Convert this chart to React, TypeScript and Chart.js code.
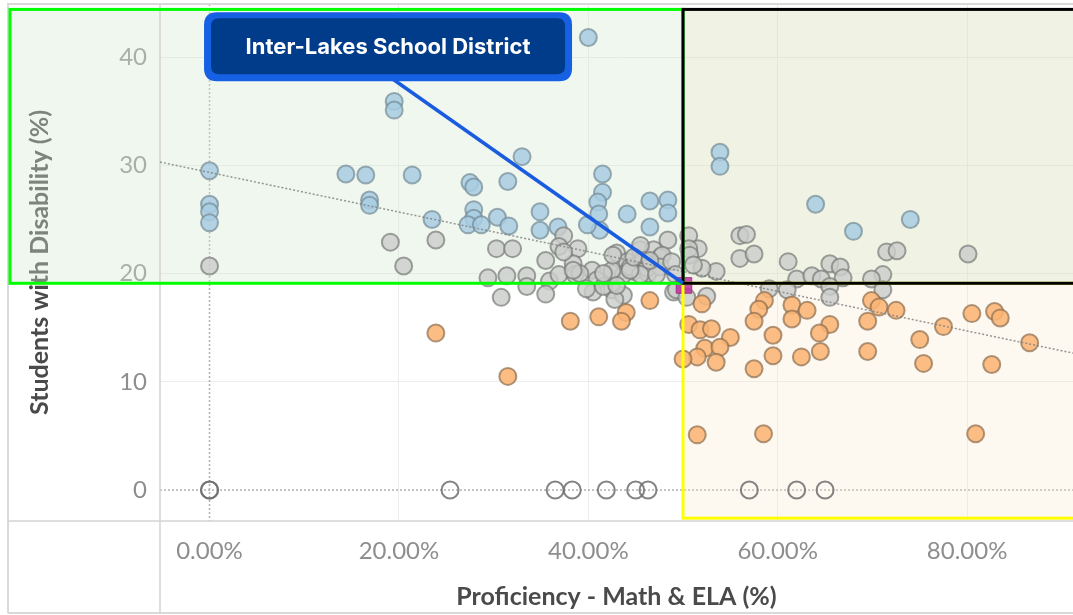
import React, { useEffect, useRef } from 'react';
import { Chart, registerables } from 'chart.js';

Chart.register(...registerables);

// ---------- data ----------
const blueX = [0, 0, 0, 0, 14.4, 16.5, 21.4, 16.9, 16.9, 23.5, 40.0, 19.5, 19.5, 33.0, 27.5, 27.9, 31.5, 41.5, 41.5, 41.0, 41.1, 41.2, 39.9, 27.9, 27.9, 27.3, 28.7, 30.4, 31.6, 34.9, 34.9, 36.8, 44.1, 46.5, 48.4, 48.4, 46.5, 53.9, 53.9, 64.0, 68.0, 74.0];
const blueY = [29.5, 26.4, 25.7, 24.7, 29.2, 29.1, 29.1, 26.8, 26.3, 25.0, 41.8, 35.9, 35.1, 30.8, 28.4, 28.0, 28.5, 29.2, 27.5, 26.6, 25.5, 24.0, 24.5, 25.9, 25.1, 24.5, 24.5, 25.2, 24.4, 25.7, 24.0, 24.3, 25.5, 26.7, 26.8, 25.6, 24.3, 31.2, 29.9, 26.4, 23.9, 25.0];

const grayX = [0, 19.1, 23.9, 20.5, 30.3, 32.0, 37.4, 36.9, 38.9, 35.5, 38.4, 40.4, 43.0, 44.1, 45.5, 46.9, 48.4, 47.6, 45.1, 29.4, 31.4, 33.5, 35.9, 36.9, 38.6, 40.9, 42.5, 43.7, 44.8, 46.3, 30.8, 33.5, 35.5, 40.5, 42.5, 43.7, 42.8, 49.0, 37.4, 45.5, 47.8, 45.8, 44.4, 46.2, 47.6, 48.8, 42.5, 39.1, 45.5, 47.2, 49.2, 39.8, 41.6, 38.4, 41.6, 42.6, 43.0, 44.4, 44.8, 46.5, 49.3,
  56.0, 56.7, 56.0, 57.5, 61.1, 65.5, 66.6, 71.5, 72.6, 71.1, 69.9, 62.0, 63.6, 64.6, 66.9, 65.5, 65.5, 61.0, 59.1, 71.1, 50.6, 51.6, 50.6, 53.5, 52.0, 52.5, 50.4, 80.1, 50.7, 51.1];
const grayY = [20.7, 22.9, 23.1, 20.7, 22.3, 22.3, 23.5, 22.5, 22.3, 21.2, 20.9, 20.3, 21.9, 21.1, 22.2, 22.2, 23.1, 21.5, 20.8, 19.6, 19.8, 19.8, 19.3, 19.9, 19.9, 19.4, 20.0, 19.9, 20.2, 20.0, 17.8, 18.8, 18.1, 18.3, 18.5, 18.0, 17.6, 18.3, 22.0, 22.6, 21.7, 21.2, 20.6, 20.5, 20.6, 21.1, 20.3, 20.0, 19.9, 19.9, 19.9, 18.6, 18.8, 20.3, 20.0, 21.7, 18.9, 20.3, 21.5, 21.2, 18.5,
  23.5, 23.6, 21.4, 21.8, 21.1, 20.9, 20.6, 22.0, 22.1, 19.9, 19.5, 19.5, 19.8, 19.5, 19.6, 18.8, 17.8, 18.5, 18.6, 18.5, 23.5, 22.3, 22.3, 20.2, 20.5, 17.9, 17.8, 21.8, 21.7, 20.8];

const orangeX = [46.5, 44.0, 43.5, 41.1, 38.1, 23.9, 31.5, 51.5, 58.5, 80.9, 52.0, 58.6, 58.0, 61.5, 63.1, 61.5, 57.5, 69.9, 70.7, 72.5, 69.5, 65.5, 64.4, 50.6, 51.8, 53.0, 55.0, 59.5, 52.3, 53.9, 51.5, 50.0, 53.5, 59.5, 62.5, 64.5, 57.5, 69.5, 75.0, 77.5, 75.4, 80.5, 82.9, 83.5, 82.6, 86.6];
const orangeY = [17.5, 16.4, 15.6, 16.0, 15.6, 14.5, 10.5, 5.1, 5.2, 5.2, 17.2, 17.5, 16.7, 17.1, 16.6, 15.8, 15.6, 17.5, 16.9, 16.6, 15.6, 15.3, 14.5, 15.3, 14.8, 14.9, 14.1, 14.3, 13.1, 13.2, 12.3, 12.1, 11.8, 12.4, 12.3, 12.8, 11.2, 12.8, 13.9, 15.1, 11.7, 16.3, 16.5, 15.9, 11.6, 13.6];

const zeroX = [0, 0, 25.4, 36.5, 38.3, 41.9, 45.0, 46.3, 57.0, 62.0, 65.0];
const zeroY = [0, 0, 0, 0, 0, 0, 0, 0, 0, 0, 0];

const highlightX = [50.1];
const highlightY = [18.9];

const trendX = [-5.23, 91.18];
const trendY = [30.3, 12.65];

const xTicks = [0, 20, 40, 60, 80];
const yTicks = [0, 10, 20, 30, 40];

const xMin = -5.23, xMax = 91.18;
const yMin = -2.86, yMax = 44.9;

// quadrant boundaries (data units)
const quadX = 50.0;
const quadY = 19.1;
const quadTop = 44.4;
const quadBottom = -2.6;

const calloutText = 'Inter-Lakes School District';
const calloutX = 18.85;
const calloutY = 40.95;

const xTitle = 'Proficiency - Math & ELA (%)';
const yTitle = 'Students with Disability (%)';

function pts(xs: number[], ys: number[]) {
  return xs.map((x, i) => ({ x, y: ys[i] }));
}

function rr(ctx: CanvasRenderingContext2D, x: number, y: number, w: number, h: number, r: number) {
  ctx.beginPath();
  ctx.moveTo(x + r, y);
  ctx.lineTo(x + w - r, y);
  ctx.quadraticCurveTo(x + w, y, x + w, y + r);
  ctx.lineTo(x + w, y + h - r);
  ctx.quadraticCurveTo(x + w, y + h, x + w - r, y + h);
  ctx.lineTo(x + r, y + h);
  ctx.quadraticCurveTo(x, y + h, x, y + h - r);
  ctx.lineTo(x, y + r);
  ctx.quadraticCurveTo(x, y, x + r, y);
  ctx.closePath();
}

const overlayPlugin = {
  id: 'quadrantOverlay',
  beforeDraw(chart: any) {
    const { ctx, width, height } = chart;
    ctx.save();
    ctx.fillStyle = '#ffffff';
    ctx.fillRect(0, 0, width, height);
    ctx.restore();
  },
  beforeDatasetsDraw(chart: any) {
    const { ctx, chartArea: ca, width, height } = chart;
    const xs = chart.scales.x, ys = chart.scales.y;
    const qx = xs.getPixelForValue(quadX), qy = ys.getPixelForValue(quadY);
    const top = ys.getPixelForValue(quadTop);
    const bottom = ys.getPixelForValue(quadBottom);
    const left = 10;
    const right = width + 10;
    ctx.save();
    // zero lines (dotted)
    ctx.setLineDash([2, 2]);
    ctx.strokeStyle = 'rgba(150,150,150,0.75)';
    ctx.lineWidth = 1.5;
    const y0 = ys.getPixelForValue(0), x0 = xs.getPixelForValue(0);
    ctx.beginPath(); ctx.moveTo(ca.left, y0); ctx.lineTo(ca.right, y0); ctx.stroke();
    ctx.beginPath(); ctx.moveTo(x0, ca.top); ctx.lineTo(x0, ca.bottom); ctx.stroke();
    ctx.setLineDash([]);
    // quadrant fills
    ctx.fillStyle = 'rgba(214,232,208,0.37)';
    ctx.fillRect(left, top, qx - left, qy - top);
    ctx.fillStyle = 'rgba(220,228,190,0.43)';
    ctx.fillRect(qx, top, right - qx, qy - top);
    ctx.fillStyle = 'rgba(247,228,195,0.25)';
    ctx.fillRect(qx, qy, right - qx, bottom - qy);
    // frame and pane dividers
    ctx.strokeStyle = '#d9d9d9';
    ctx.lineWidth = 2;
    ctx.beginPath();
    ctx.moveTo(8, height - 2); ctx.lineTo(8, 4); ctx.lineTo(width, 4);
    ctx.moveTo(8, height - 2); ctx.lineTo(width, height - 2);
    ctx.stroke();
    ctx.strokeStyle = '#d4d4d4';
    ctx.lineWidth = 1.5;
    ctx.beginPath();
    ctx.moveTo(ca.left, 4); ctx.lineTo(ca.left, height - 2);
    ctx.moveTo(8, ca.bottom); ctx.lineTo(width, ca.bottom);
    ctx.stroke();
    ctx.restore();
  },
  afterDatasetsDraw(chart: any) {
    const { ctx, width } = chart;
    const xs = chart.scales.x, ys = chart.scales.y;
    const qx = xs.getPixelForValue(quadX), qy = ys.getPixelForValue(quadY);
    const top = ys.getPixelForValue(quadTop);
    const bottom = ys.getPixelForValue(quadBottom);
    const left = 10;
    const right = width + 10;
    ctx.save();
    ctx.lineWidth = 3;
    ctx.strokeStyle = '#00ff00';
    ctx.strokeRect(left, top, qx - left, qy - top);
    ctx.strokeStyle = '#ffff00';
    ctx.strokeRect(qx, qy, right - qx, bottom - qy);
    ctx.strokeStyle = '#000000';
    ctx.strokeRect(qx, top, right - qx, qy - top);

    // callout
    const cx = xs.getPixelForValue(calloutX), cy = ys.getPixelForValue(calloutY);
    const bw = 368, bh = 69;
    ctx.strokeStyle = '#1a5ce0';
    ctx.lineWidth = 3.5;
    ctx.beginPath();
    ctx.moveTo(cx + 5, cy + bh / 2 - 2);
    ctx.lineTo(qx, qy);
    ctx.stroke();
    ctx.fillStyle = '#1660e3';
    rr(ctx, cx - bw / 2, cy - bh / 2, bw, bh, 13);
    ctx.fill();
    ctx.fillStyle = '#003c8a';
    rr(ctx, cx - bw / 2 + 7, cy - bh / 2 + 6, bw - 14, bh - 13, 8);
    ctx.fill();
    ctx.fillStyle = '#ffffff';
    ctx.font = 'bold 22px Inter, "Open Sans", sans-serif';
    ctx.textAlign = 'center';
    ctx.textBaseline = 'middle';
    ctx.fillText(calloutText, cx, cy + 1);
    ctx.restore();
  },
};

export default function App() {
  const ref = useRef<HTMLCanvasElement | null>(null);

  useEffect(() => {
    if (!ref.current) return;
    const tickFont = { family: 'Lato, "Open Sans", sans-serif', size: 24 };
    const titleFont = { family: 'Lato, "Open Sans", sans-serif', size: 25, weight: 'bold' as const };
    const chart = new Chart(ref.current, {
      type: 'scatter',
      data: {
        datasets: [
          {
            label: 'trend',
            data: pts(trendX, trendY),
            showLine: true,
            pointRadius: 0,
            borderColor: 'rgba(125,125,125,0.8)',
            borderWidth: 1.5,
            borderDash: [2, 2],
            order: 0,
          } as any,
          {
            label: 'Inter-Lakes',
            data: pts(highlightX, highlightY),
            pointStyle: 'rect',
            pointRadius: 11,
            backgroundColor: 'rgba(190,45,160,0.85)',
            borderColor: 'rgba(160,40,130,0.9)',
            borderWidth: 1,
            order: 1,
          },
          {
            label: 'orange',
            data: pts(orangeX, orangeY),
            pointRadius: 8.5,
            backgroundColor: 'rgba(250,180,115,0.88)',
            borderColor: 'rgba(140,110,80,0.7)',
            borderWidth: 2,
            order: 2,
          },
          {
            label: 'gray',
            data: pts(grayX, grayY),
            pointRadius: 8.5,
            backgroundColor: 'rgba(203,205,203,0.82)',
            borderColor: 'rgba(120,122,120,0.7)',
            borderWidth: 2,
            order: 3,
          },
          {
            label: 'blue',
            data: pts(blueX, blueY),
            pointRadius: 8.5,
            backgroundColor: 'rgba(168,205,226,0.85)',
            borderColor: 'rgba(115,138,150,0.7)',
            borderWidth: 2,
            order: 4,
          },
          {
            label: 'zero',
            data: pts(zeroX, zeroY),
            pointRadius: 8.5,
            backgroundColor: 'rgba(255,255,255,0)',
            borderColor: 'rgba(110,110,110,0.85)',
            borderWidth: 2,
            order: 5,
          },
        ],
      },
      options: {
        responsive: false,
        animation: false,
        layout: { autoPadding: false, padding: { top: 4, left: 0, right: 0, bottom: 0 } },
        plugins: { legend: { display: false }, tooltip: { enabled: false } },
        scales: {
          x: {
            type: 'linear',
            min: xMin,
            max: xMax,
            afterBuildTicks: (s: any) => { s.ticks = xTicks.map((v) => ({ value: v })); },
            afterFit: (s: any) => { s.height = 94; s.paddingLeft = 0; s.paddingRight = 0; },
            ticks: {
              callback: (v: any) => Number(v).toFixed(2) + '%',
              font: tickFont,
              color: '#8e8e8e',
              padding: 16,
              maxRotation: 0,
              autoSkip: false,
            },
            grid: {
              color: (c: any) => (c.tick && c.tick.value === 0 ? 'rgba(0,0,0,0)' : '#ececec'),
              drawTicks: false,
              lineWidth: 1,
            },
            border: { display: false },
            title: {
              display: true,
              text: xTitle,
              font: titleFont,
              color: '#4a4a4a',
              padding: { top: 0, bottom: 3 },
            },
          },
          y: {
            type: 'linear',
            min: yMin,
            max: yMax,
            afterBuildTicks: (s: any) => { s.ticks = yTicks.map((v) => ({ value: v })); },
            afterFit: (s: any) => { s.width = 160; s.paddingTop = 0; s.paddingBottom = 0; },
            ticks: {
              callback: (v: any) => String(v),
              font: tickFont,
              color: '#8e8e8e',
              padding: 13,
              autoSkip: false,
            },
            grid: {
              color: (c: any) => (c.tick && c.tick.value === 0 ? 'rgba(0,0,0,0)' : '#ececec'),
              drawTicks: false,
              lineWidth: 1,
            },
            border: { display: false },
            title: {
              display: true,
              text: yTitle,
              font: titleFont,
              color: '#4a4a4a',
              padding: { top: 25, bottom: 0 },
            },
          },
        },
      },
      plugins: [overlayPlugin],
    });
    return () => chart.destroy();
  }, []);

  return (
    <div style={{ position: 'absolute', left: 0, top: 0, width: 1073, height: 615 }}>
      <canvas ref={ref} width={1073} height={615} style={{ width: 1073, height: 615, display: 'block' }} />
    </div>
  );
}
